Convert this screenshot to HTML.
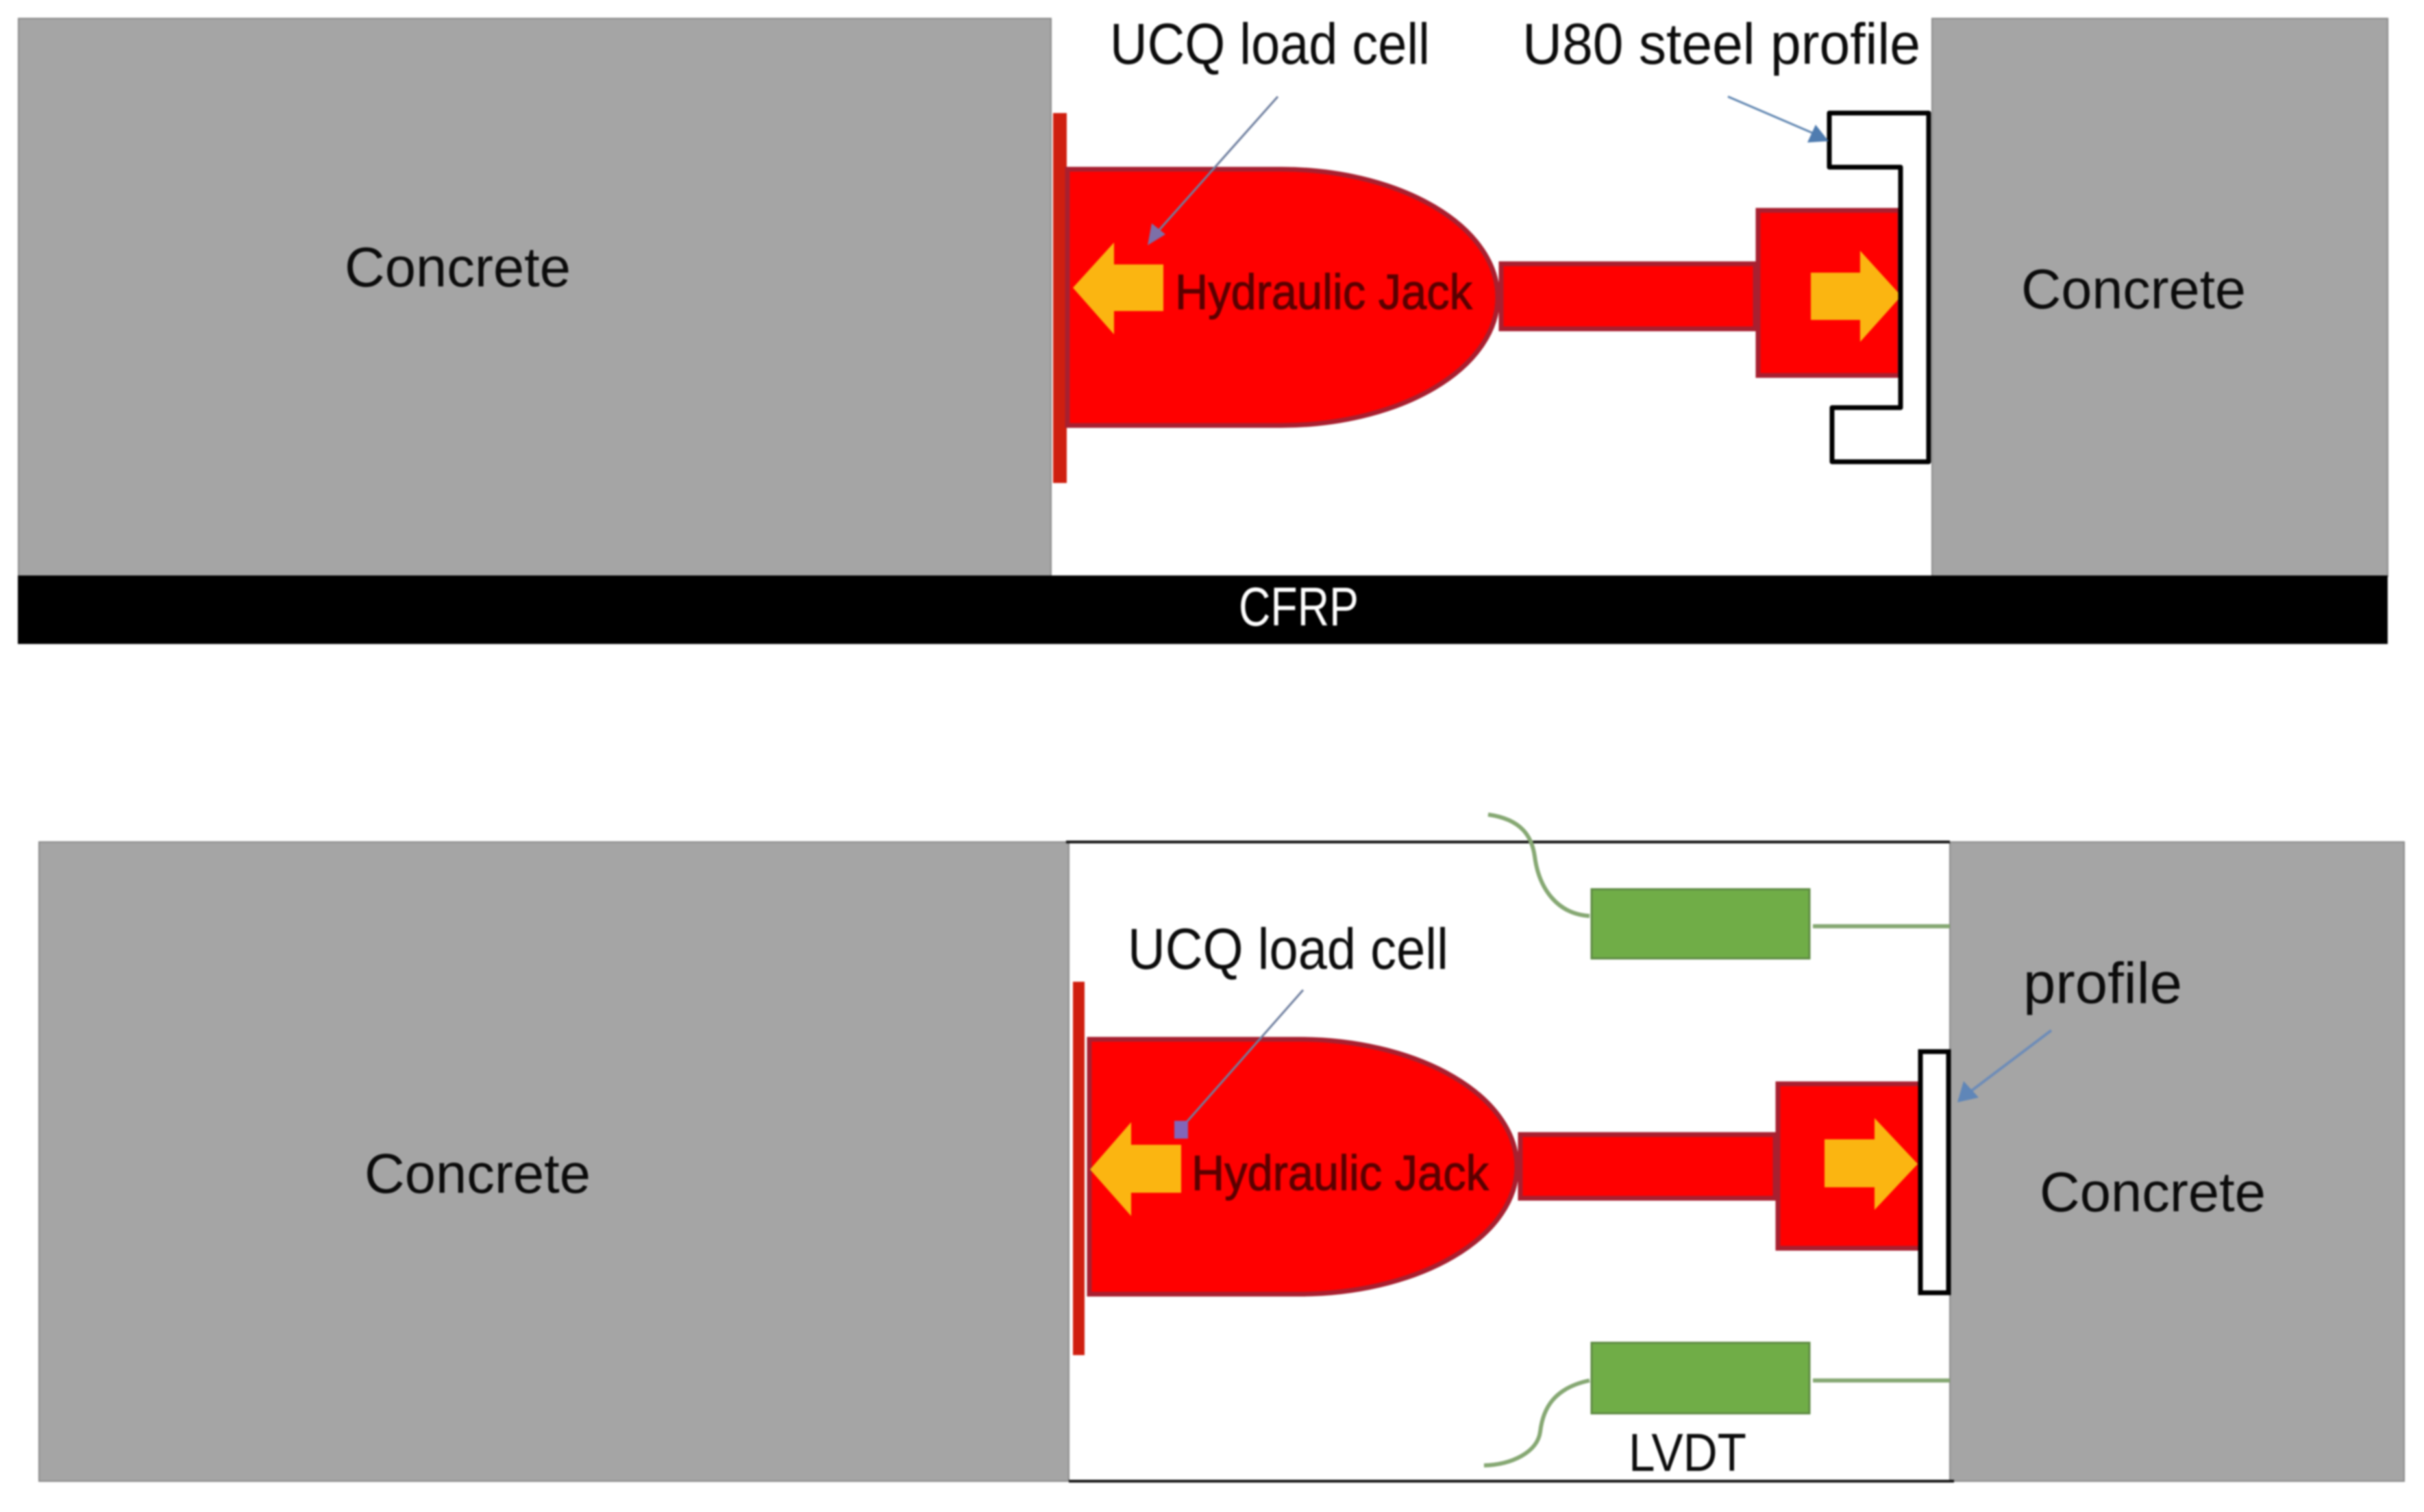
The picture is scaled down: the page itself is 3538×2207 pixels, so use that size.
<!DOCTYPE html>
<html><head><meta charset="utf-8"><style>
html,body{margin:0;padding:0;background:#fff;width:3538px;height:2207px;overflow:hidden}
svg{display:block;filter:blur(1.2px)}
text{font-family:"Liberation Sans",sans-serif;fill:#0c0c0c}
</style></head><body>
<svg width="3538" height="2207" viewBox="0 0 3538 2207" xmlns="http://www.w3.org/2000/svg">
<rect width="3538" height="2207" fill="#fff"/>
<!-- TOP -->
<rect x="27" y="27" width="1507" height="814" fill="#a5a5a5" stroke="#8a8a8a" stroke-width="2"/>
<rect x="2820" y="27" width="665" height="814" fill="#a5a5a5" stroke="#8a8a8a" stroke-width="2"/>
<rect x="26" y="840" width="3459" height="100" fill="#000"/>
<rect x="1537" y="165" width="20" height="540" fill="#cf1f10"/>
<path d="M1558 247H1870A316 187 0 0 1 1870 621H1558Z" fill="#f00" stroke="#a82030" stroke-width="7"/>
<rect x="2191" y="385" width="371" height="95" fill="#f00" stroke="#a82030" stroke-width="7"/>
<rect x="2566" y="307" width="207" height="241" fill="#f00" stroke="#a82030" stroke-width="7"/>
<path d="M1566 420L1626 354V386H1698V454H1626V488Z" fill="#fbb511"/>
<path d="M2643 398H2715V366L2775 432L2715 499V467H2643Z" fill="#fbb511"/>
<path d="M2670 165H2815V674H2674V595H2774V244H2670Z" fill="none" stroke="#000" stroke-width="7" stroke-linejoin="round"/>
<line x1="1865" y1="141" x2="1688" y2="340" stroke="#6f7f9f" stroke-width="3"/>
<path d="M1675 358L1681 326L1701 342Z" fill="#7d6fa8"/>
<line x1="2522" y1="141" x2="2650" y2="196" stroke="#5f85b0" stroke-width="3"/>
<path d="M2669 206L2638 208L2650 182Z" fill="#4f7cb0"/>
<text x="503" y="418" font-size="82" textLength="330" lengthAdjust="spacingAndGlyphs">Concrete</text>
<text x="2950" y="450" font-size="82" textLength="328" lengthAdjust="spacingAndGlyphs">Concrete</text>
<text x="1620" y="93" font-size="84" textLength="467" lengthAdjust="spacingAndGlyphs">UCQ load cell</text>
<text x="2222" y="93" font-size="84" textLength="581" lengthAdjust="spacingAndGlyphs">U80 steel profile</text>
<text x="1715" y="451" font-size="72" textLength="434" lengthAdjust="spacingAndGlyphs" style="fill:#5a0000;stroke:#5a0000;stroke-width:1">Hydraulic Jack</text>
<text x="1808" y="913" font-size="80" textLength="175" lengthAdjust="spacingAndGlyphs" style="fill:#fff">CFRP</text>
<!-- BOTTOM -->
<rect x="57" y="1229" width="1503" height="933" fill="#a5a5a5" stroke="#8a8a8a" stroke-width="2"/>
<rect x="2846" y="1229" width="663" height="933" fill="#a5a5a5" stroke="#8a8a8a" stroke-width="2"/>
<line x1="1556" y1="1229" x2="2846" y2="1229" stroke="#111" stroke-width="4"/>
<line x1="1560" y1="2162" x2="2852" y2="2162" stroke="#111" stroke-width="4"/>
<rect x="1566" y="1433" width="17" height="545" fill="#cf1f10"/>
<path d="M1590 1517H1896A318 186 0 0 1 1896 1889H1590Z" fill="#f00" stroke="#a82030" stroke-width="7"/>
<rect x="2219" y="1656" width="372" height="93" fill="#f00" stroke="#a82030" stroke-width="7"/>
<rect x="2595" y="1582" width="208" height="240" fill="#f00" stroke="#a82030" stroke-width="7"/>
<path d="M1591 1707L1651 1638V1671H1724V1741H1651V1775Z" fill="#fbb511"/>
<path d="M2663 1663H2736V1632L2799 1699L2736 1766V1733H2663Z" fill="#fbb511"/>
<rect x="2803" y="1535" width="41" height="352" fill="#fff" stroke="#000" stroke-width="7"/>
<path d="M2172 1189C2222 1196 2236 1222 2240 1250C2246 1296 2272 1334 2320 1337" fill="none" stroke="#86a873" stroke-width="6"/>
<path d="M2320 2015C2268 2026 2252 2056 2248 2090C2244 2120 2206 2138 2166 2139" fill="none" stroke="#86a873" stroke-width="6"/>
<rect x="2323" y="1298" width="318" height="101" fill="#70ad47" stroke="#5d8a42" stroke-width="3"/>
<rect x="2323" y="1960" width="318" height="103" fill="#70ad47" stroke="#5d8a42" stroke-width="3"/>
<line x1="2646" y1="1352" x2="2846" y2="1352" stroke="#86a873" stroke-width="6"/>
<line x1="2646" y1="2015" x2="2846" y2="2015" stroke="#86a873" stroke-width="6"/>
<line x1="1902" y1="1445" x2="1730" y2="1640" stroke="#6f7f9f" stroke-width="3"/>
<rect x="1714" y="1636" width="20" height="26" fill="#8266b8"/>
<line x1="2994" y1="1504" x2="2875" y2="1594" stroke="#6d8cb8" stroke-width="4"/>
<path d="M2857 1609L2866 1578L2888 1602Z" fill="#5f86b8"/>
<text x="532" y="1741" font-size="82" textLength="330" lengthAdjust="spacingAndGlyphs">Concrete</text>
<text x="2977" y="1768" font-size="82" textLength="330" lengthAdjust="spacingAndGlyphs">Concrete</text>
<text x="1646" y="1414" font-size="84" textLength="468" lengthAdjust="spacingAndGlyphs">UCQ load cell</text>
<text x="2953" y="1464" font-size="84" textLength="232" lengthAdjust="spacingAndGlyphs">profile</text>
<text x="2377" y="2147" font-size="78" textLength="172" lengthAdjust="spacingAndGlyphs">LVDT</text>
<text x="1739" y="1737" font-size="72" textLength="434" lengthAdjust="spacingAndGlyphs" style="fill:#5a0000;stroke:#5a0000;stroke-width:1">Hydraulic Jack</text>
</svg>
</body></html>
